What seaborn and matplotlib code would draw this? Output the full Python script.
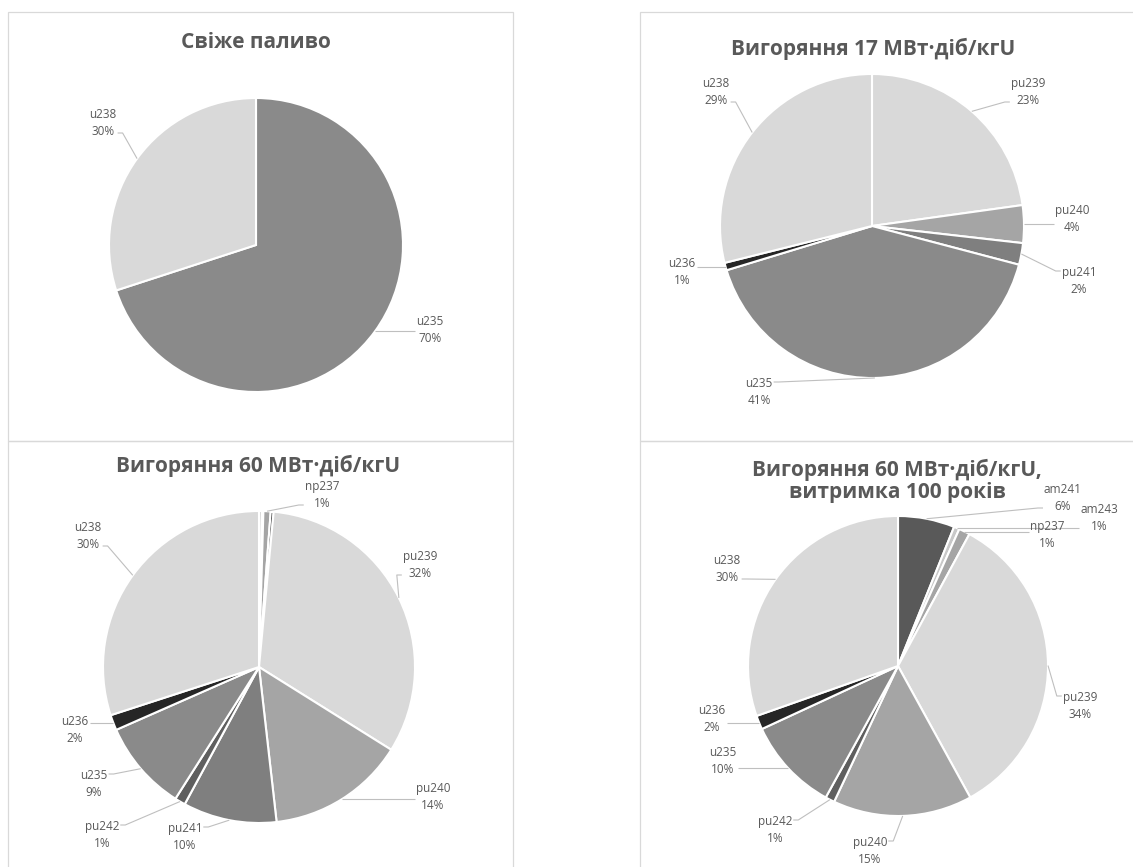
import numpy as np
import matplotlib
matplotlib.use("Agg")
import matplotlib.pyplot as plt
from matplotlib.patches import Rectangle
import seaborn as sns

# ---- data: isotope shares, % ----
fresh_isotopes = ["u235", "u238"]
fresh_share = [70.0, 30.0]

bu17_isotopes = ["pu239", "pu240", "pu241", "u235", "u236", "u238"]
bu17_share = [22.8, 4.0, 2.3, 41.2, 0.8, 28.9]

bu60_isotopes = ["am241", "am243", "np237", "pu238", "pu239", "pu240",
                 "pu241", "pu242", "u235", "u236", "u238"]
bu60_share = [0.3, 0.15, 0.75, 0.3, 32.4, 14.3, 9.7, 1.1, 9.4, 1.6, 30.0]

cool_isotopes = ["am241", "am243", "np237", "pu239", "pu240", "pu242",
                 "u235", "u236", "u238"]
cool_share = [6.1, 0.6, 1.2, 34.1, 15.0, 1.0, 10.1, 1.5, 30.4]

titles = [
    "Свіже паливо",
    "Вигоряння 17 МВт·діб/кгU",
    "Вигоряння 60 МВт·діб/кгU",
    "Вигоряння 60 МВт·діб/кгU,\nвитримка 100 років",
]

# ---- styling ----
W, H = 1133, 867
sns.set_theme(style="white")
plt.rcParams["font.family"] = ["Open Sans", "DejaVu Sans"]

grey = {
    "u238": "#d9d9d9", "u235": "#8a8a8a", "u236": "#262626",
    "pu239": "#d9d9d9", "pu240": "#a5a5a5", "pu241": "#7f7f7f",
    "pu242": "#5f5f5f", "pu238": "#262626", "np237": "#a5a5a5",
}
panel_colors = [
    [grey[k] for k in fresh_isotopes],
    [grey[k] for k in bu17_isotopes],
    ["#c8c8c8", "#e3e3e3"] + [grey[k] for k in bu60_isotopes[2:]],
    ["#595959", "#c8c8c8"] + [grey[k] for k in cool_isotopes[2:]],
]

# pie centre / radius (pixels, y from top)
pies = [((256, 245), 147), ((872, 226), 152), ((259, 667), 156), ((898, 666), 150)]
title_pos = [(256, 42), (873, 49), (258, 466), (897, 481)]

# label centres (pixels, y from top)
label_pos = [
    {"u238": (103, 123), "u235": (430, 330)},
    {"u238": (716, 92), "pu239": (1028, 92), "pu240": (1072, 219),
     "pu241": (1079, 281), "u236": (682, 272), "u235": (759, 392)},
    {"np237": (322, 495), "u238": (88, 536), "pu239": (420, 565),
     "pu240": (433, 797), "pu241": (185, 837), "pu242": (102, 835),
     "u235": (94, 784), "u236": (75, 730)},
    {"am241": (1063, 498), "am243": (1099, 518), "np237": (1047, 535),
     "u238": (727, 569), "pu239": (1080, 706), "u236": (712, 719),
     "u235": (723, 761), "pu242": (775, 830), "pu240": (870, 851)},
]

frames = [(8, 12, 513, 441), (640, 12, 1140, 441),
          (8, 441, 513, 870), (640, 441, 1140, 870)]

fig = plt.figure(figsize=(W / 100, H / 100), dpi=100)
ax = fig.add_axes([0, 0, 1, 1])

panels = [
    (fresh_isotopes, fresh_share),
    (bu17_isotopes, bu17_share),
    (bu60_isotopes, bu60_share),
    (cool_isotopes, cool_share),
]

for (x0, y0, x1, y1) in frames:
    ax.add_patch(Rectangle((x0, H - y1), x1 - x0, y1 - y0, fill=False,
                           edgecolor="#d9d9d9", linewidth=0.9, zorder=0))

labels_to_link = []
for i, (names, vals) in enumerate(panels):
    (cx, cy), r = pies[i]
    vals = np.asarray(vals, dtype=float)
    ax.pie(vals, colors=panel_colors[i], startangle=90, counterclock=False,
           radius=r, center=(cx, H - cy), frame=True,
           wedgeprops=dict(edgecolor="white", linewidth=1.5))
    tx, ty = title_pos[i]
    ax.text(tx, H - ty, titles[i], ha="center", va="center", fontsize=15,
            fontweight="bold", color="#595959", linespacing=1.1)
    total = vals.sum()
    cum = np.cumsum(vals) - vals / 2
    for name, v, c in zip(names, vals, cum):
        if name not in label_pos[i]:
            continue
        theta = np.deg2rad(360 * c / total)
        ex, ey = cx + r * np.sin(theta), cy - r * np.cos(theta)
        lx, ly = label_pos[i][name]
        pct = int(np.floor(100 * v / total + 0.5))
        t = ax.text(lx, H - ly, f"{name}\n{pct}%", ha="center", va="center",
                    fontsize=8.5, color="#595959", linespacing=1.4)
        labels_to_link.append((t, ex, ey))

ax.set_xlim(0, W)
ax.set_ylim(0, H)
ax.set_aspect("auto")
ax.axis("off")

# leader lines from wedge edge to the nearest side of each label
fig.canvas.draw()
renderer = fig.canvas.get_renderer()
inv = ax.transData.inverted()
for t, ex, ey in labels_to_link:
    bb = t.get_window_extent(renderer)
    (bx0, by0), (bx1, by1) = inv.transform([[bb.x0, bb.y0], [bb.x1, bb.y1]])
    eyd = H - ey
    if ex > bx1:
        ax_ = bx1 + 1
        step = 5
    elif ex < bx0:
        ax_ = bx0 - 1
        step = -5
    else:
        continue
    ayd = min(max(eyd, by0 + 5), by1 - 5)
    # skip when the edge point is right against the label
    if np.hypot(ex - ax_, eyd - ayd) < 6:
        continue
    ax.plot([ax_, ax_ + step, ex], [ayd, ayd, eyd], color="#bfbfbf",
            linewidth=0.8, solid_capstyle="butt", zorder=1)

fig.savefig("out.png", dpi=100)
